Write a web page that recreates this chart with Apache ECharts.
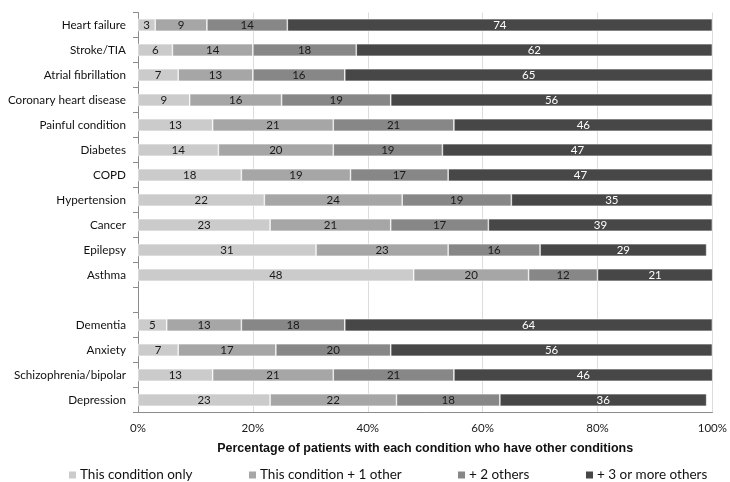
<!DOCTYPE html>
<html>
<head>
<meta charset="utf-8">
<script src="https://cdn.jsdelivr.net/npm/echarts@6/dist/echarts.min.js"></script>
<style>
  html, body { margin: 0; padding: 0; background: #fff; }
  #chart { width: 730px; height: 482px; }
</style>
</head>
<body>
<div id="chart"></div>
<script>
// Conditions, top to bottom; the empty entry separates the two groups
const categories = [
  'Heart failure', 'Stroke/TIA', 'Atrial fibrillation', 'Coronary heart disease',
  'Painful condition', 'Diabetes', 'COPD', 'Hypertension', 'Cancer', 'Epilepsy',
  'Asthma', '', 'Dementia', 'Anxiety', 'Schizophrenia/bipolar', 'Depression'
];

// Percentage of patients in each band (null = spacer row)
const conditionOnly = [3, 6, 7, 9, 13, 14, 18, 22, 23, 31, 48, null, 5, 7, 13, 23];
const plusOne       = [9, 14, 13, 16, 21, 20, 19, 24, 21, 23, 20, null, 13, 17, 21, 22];
const plusTwo       = [14, 18, 16, 19, 21, 19, 17, 19, 17, 16, 12, null, 18, 20, 21, 18];
const plusThreeMore = [74, 62, 65, 56, 46, 47, 47, 35, 39, 29, 21, null, 64, 56, 46, 36];

const seriesNames = ['This condition only', 'This condition + 1 other', '+ 2 others', '+ 3 or more others'];
const xTicks = [0, 20, 40, 60, 80, 100];

const colors = ['#cbcbcb', '#a6a6a6', '#878787', '#474747'];
const labelColors = ['#1a1a1a', '#1a1a1a', '#1a1a1a', '#ffffff'];
const FONT = 'Lato, "Liberation Sans", sans-serif';

const values = [conditionOnly, plusOne, plusTwo, plusThreeMore];

const series = seriesNames.map((name, i) => ({
  name,
  type: 'bar',
  stack: 'total',
  barWidth: '50%',
  data: values[i],
  itemStyle: { color: colors[i], borderColor: '#ffffff', borderWidth: 0.6 },
  label: {
    show: true,
    position: 'inside',
    color: labelColors[i],
    fontFamily: FONT,
    fontSize: 11.5,
    formatter: p => (p.value == null ? '' : String(p.value))
  },
  emphasis: { disabled: true }
}));

// One legend per entry so each can sit in its own column
const legendLefts = [62, 242, 451, 579];
const legend = seriesNames.map((name, i) => ({
  data: [name],
  left: legendLefts[i],
  top: 463,
  itemWidth: 9,
  itemHeight: 9,
  itemGap: 4,
  icon: 'rect',
  textStyle: { fontFamily: FONT, fontSize: 13.5, color: '#111', padding: [0, 0, 0, -2] },
  selectedMode: false
}));

const chart = echarts.init(document.getElementById('chart'), null, { renderer: 'canvas' });
chart.setOption({
  animation: false,
  backgroundColor: '#ffffff',
  grid: { left: 138, right: 14, top: 12.5, bottom: 69.5, containLabel: false },
  legend,
  xAxis: {
    type: 'value',
    min: xTicks[0],
    max: xTicks[xTicks.length - 1],
    interval: xTicks[1] - xTicks[0],
    axisLabel: {
      formatter: v => v + '%',
      fontFamily: FONT,
      fontSize: 11.5,
      color: '#1a1a1a',
      margin: 10
    },
    axisLine: { show: true, lineStyle: { color: '#8c8c8c' } },
    axisTick: { show: false },
    splitLine: { show: true, lineStyle: { color: '#dcdcdc' } },
    name: 'Percentage of patients with each condition who have other conditions',
    nameLocation: 'middle',
    nameGap: 30,
    nameTextStyle: {
      fontFamily: '"Liberation Sans Narrow", "Liberation Sans", sans-serif',
      fontWeight: 'bold',
      fontSize: 12.5,
      color: '#111'
    }
  },
  yAxis: {
    type: 'category',
    inverse: true,
    data: categories,
    axisLine: { show: true, lineStyle: { color: '#8c8c8c' } },
    axisTick: { show: true, length: 5, lineStyle: { color: '#8c8c8c' } },
    axisLabel: {
      fontFamily: FONT,
      fontSize: 11.7,
      color: '#111',
      margin: 12
    }
  },
  series
});
</script>
</body>
</html>
